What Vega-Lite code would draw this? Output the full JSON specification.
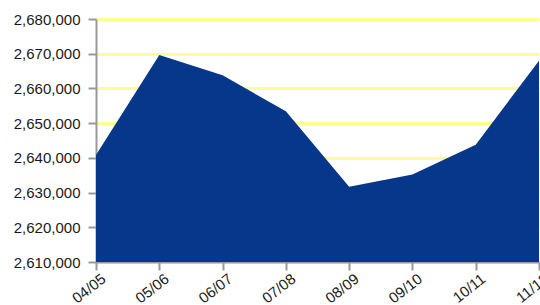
{
  "$schema": "https://vega.github.io/schema/vega-lite/v6.json",
  "autosize": "none",
  "width": 443,
  "height": 243,
  "padding": {"left": 96, "top": 19, "right": 1, "bottom": 43},
  "background": "white",
  "config": {
    "view": {"stroke": null},
    "font": "Liberation Sans",
    "axis": {
      "labelFont": "Liberation Sans",
      "labelColor": "#1a1a1a",
      "domainColor": "#999999",
      "domainWidth": 2,
      "tickColor": "#999999",
      "tickWidth": 2,
      "tickSize": 8,
      "title": null
    }
  },
  "data": {
    "values": [
      {"year": "04/05", "value": 2640800},
      {"year": "05/06", "value": 2669600},
      {"year": "06/07", "value": 2663800},
      {"year": "07/08", "value": 2653400},
      {"year": "08/09", "value": 2631700},
      {"year": "09/10", "value": 2635200},
      {"year": "10/11", "value": 2643800},
      {"year": "11/12", "value": 2668000}
    ]
  },
  "mark": {"type": "area", "color": "#06378a", "clip": true},
  "encoding": {
    "x": {
      "field": "year",
      "type": "ordinal",
      "sort": null,
      "scale": {"type": "point", "padding": 0},
      "axis": {"labelAngle": -38, "labelFontSize": 15, "labelPadding": 1, "labelOffset": 3, "grid": false}
    },
    "y": {
      "field": "value",
      "type": "quantitative",
      "scale": {"domain": [2610000, 2680000], "zero": false, "nice": false},
      "axis": {
        "values": [2610000, 2620000, 2630000, 2640000, 2650000, 2660000, 2670000, 2680000],
        "format": ",d",
        "labelFontSize": 15,
        "labelPadding": 8,
        "grid": true,
        "gridColor": "#ffff8f",
        "gridWidth": 3
      }
    }
  }
}
